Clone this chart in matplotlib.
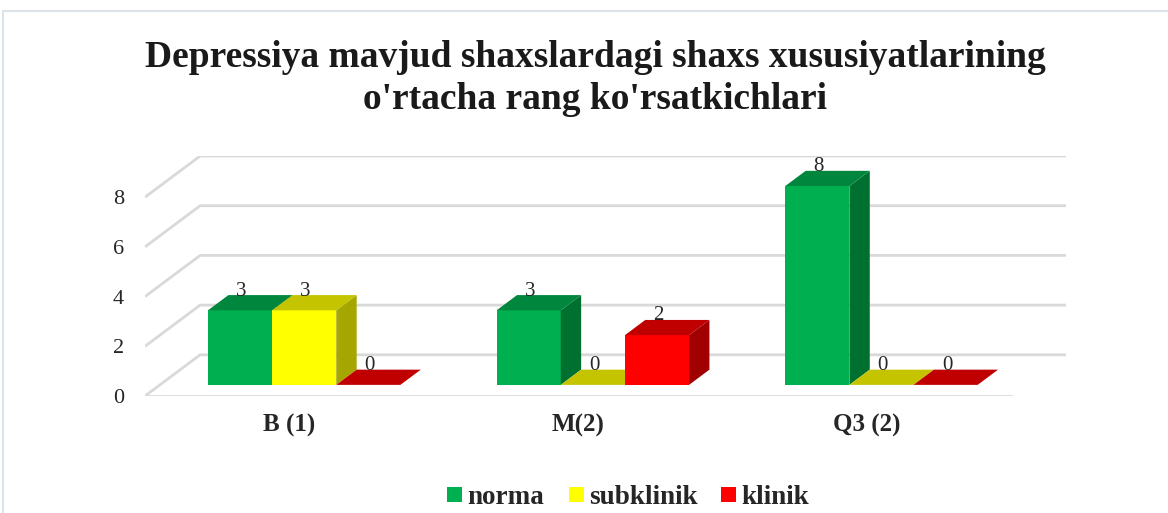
import matplotlib
matplotlib.use("Agg")
import matplotlib.pyplot as plt
from matplotlib.patches import Polygon, Rectangle

# ---- data ----
categories = ["B (1)", "M(2)", "Q3 (2)"]
series_names = ["norma", "subklinik", "klinik"]
norma = [3, 3, 8]
subklinik = [3, 0, 0]
klinik = [0, 2, 0]
yticks = [0, 2, 4, 6, 8]
title_lines = ["Depressiya mavjud shaxslardagi shaxs xususiyatlarining",
               "o'rtacha rang ko'rsatkichlari"]

values = [norma, subklinik, klinik]
front_cols = ["#00B050", "#FFFF00", "#FF0000"]
top_cols = ["#00873D", "#C4C400", "#C00000"]
side_cols = ["#007030", "#A6A600", "#A00000"]

W, H, DPI = 1168, 513, 100
fig = plt.figure(figsize=(W / DPI, H / DPI), dpi=DPI)
fig.patch.set_facecolor("white")

# chart border
fig.add_artist(Rectangle((3 / W, -0.1), 1.2, 1 - 11 / H + 0.1, transform=fig.transFigure,
                         fill=False, edgecolor="#dde3ea", lw=1.5))

# oblique depth offsets (in data units)
DX, DY = 0.191, 1.657
ymax = 8
x0, x1 = -0.5, len(categories) - 0.5

left_px, right_px = 145, 1066
bot_px, top_px = 396, 156
ax = fig.add_axes([left_px / W, 1 - bot_px / H, (right_px - left_px) / W, (bot_px - top_px) / H])
ax.set_xlim(x0, x1 + DX)
ax.set_ylim(0, ymax + DY)
for s in ax.spines.values():
    s.set_visible(False)
ax.patch.set_alpha(0)


def P(x, v, d):
    return (x + d * DX, v + d * DY)


gc = "#d9d9d9"
# gridlines: left wall diagonal + back wall
for t in yticks:
    a = P(x0, t, 0)
    b = P(x0, t, 1)
    c = P(x1, t, 1)
    ax.plot([a[0], b[0], c[0]], [a[1], b[1], c[1]], color=gc, lw=2.0, solid_capstyle="butt", zorder=1)
# floor front edge
ax.plot([x0, x1], [0, 0], color=gc, lw=2.0, zorder=1)

# bars
bw = 1 / 4.5
d0, d1 = 0.27, 0.64
for ci in range(len(categories)):
    for si in range(len(series_names)):
        v = values[si][ci]
        xl = ci + (si - 1.5) * bw
        xr = xl + bw
        if v > 0:
            front = [P(xl, 0, d0), P(xr, 0, d0), P(xr, v, d0), P(xl, v, d0)]
            ax.add_patch(Polygon(front, closed=True, facecolor=front_cols[si], edgecolor="none", zorder=3))
            side = [P(xr, 0, d0), P(xr, 0, d1), P(xr, v, d1), P(xr, v, d0)]
            ax.add_patch(Polygon(side, closed=True, facecolor=side_cols[si], edgecolor="none", zorder=3))
        top = [P(xl, v, d0), P(xr, v, d0), P(xr, v, d1), P(xl, v, d1)]
        ax.add_patch(Polygon(top, closed=True, facecolor=top_cols[si], edgecolor="none", zorder=3))
        lx, ly = P(xl + bw / 2, v, d0)[0] + 0.005, P(xl, v, d1)[1] - 0.22
        ax.text(lx, ly, f"{v}", ha="center", va="bottom", fontsize=15,
                family="Liberation Serif", color="#262626", zorder=5)

ax.set_yticks(yticks)
ax.set_yticklabels([str(t) for t in yticks], family="Liberation Serif", fontsize=16, color="#262626")
ax.tick_params(axis="y", length=0, pad=15)
ax.set_xticks(range(len(categories)))
ax.set_xticklabels(categories, family="Liberation Serif", fontsize=18, fontweight="bold", color="#262626")
ax.tick_params(axis="x", length=0, pad=13)

for i, (line, base_px) in enumerate(zip(title_lines, [67, 109])):
    fig.text(595 / W, 1 - base_px / H, line, ha="center", va="baseline", family="Liberation Serif",
             fontsize=27, fontweight="bold", color="#1a1a1a")

# legend
leg_y = 1 - 494.5 / H
items = [(447, 467), (569, 589), (721, 741)]
for si, (sx, tx) in enumerate(items):
    fig.add_artist(Rectangle((sx / W, leg_y - 7.5 / H), 15 / W, 15 / H, transform=fig.transFigure,
                             facecolor=front_cols[si], edgecolor="none"))
    fig.text(tx / W, 1 - 504 / H, series_names[si], ha="left", va="baseline", family="Liberation Serif",
             fontsize=19.5, fontweight="bold", color="#262626")

fig.savefig("out.png", dpi=DPI)
